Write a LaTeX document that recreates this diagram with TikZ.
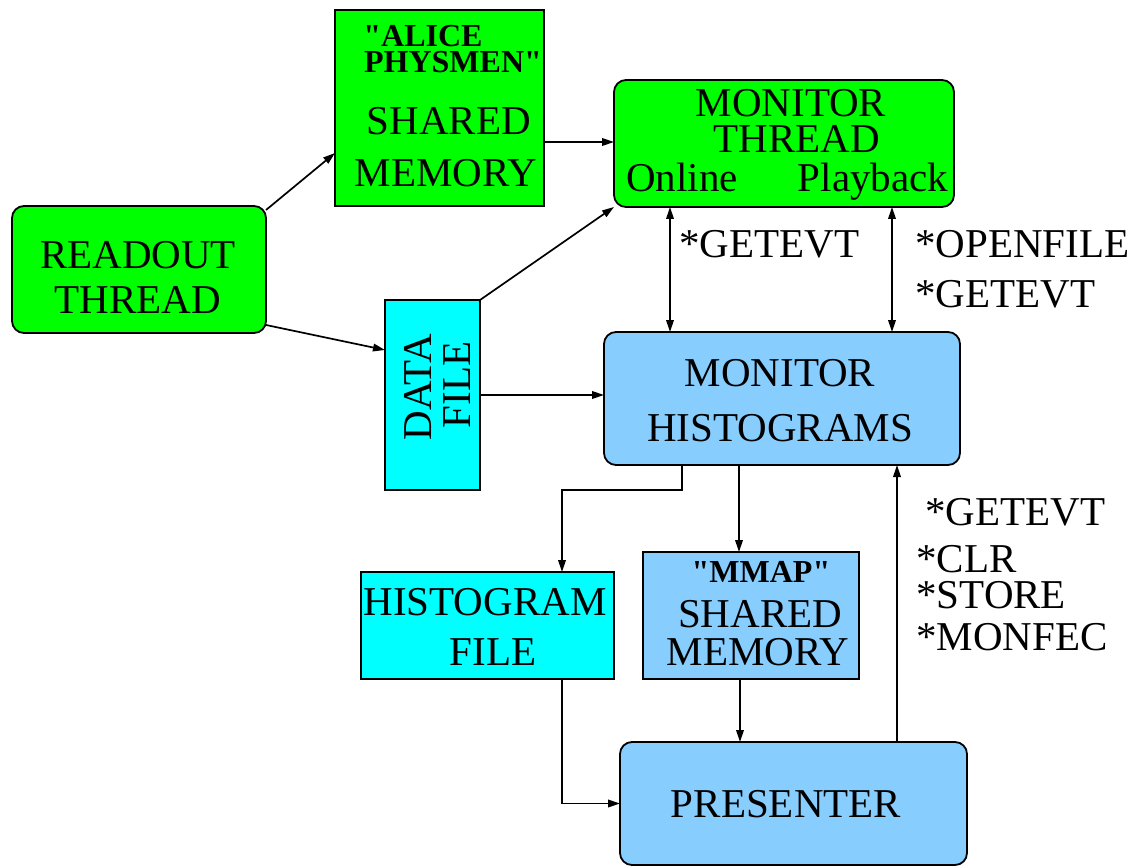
\documentclass[tikz,border=0pt]{standalone}
\usepackage{fontspec}
\newfontfamily\tms{Liberation Serif}
\usetikzlibrary{arrows.meta,fit}
\definecolor{fgreen}{RGB}{0,255,0}
\definecolor{lblue}{RGB}{135,206,255}
\definecolor{fcyan}{RGB}{0,255,255}
\begin{document}
\begin{tikzpicture}[x=0.5pt,y=-0.5pt,
  box/.style={draw, line width=0.9pt, inner sep=0pt, outer sep=0pt},
  gsq/.style={box, fill=fgreen},
  grnd/.style={box, fill=fgreen, rounded corners=6pt},
  bsq/.style={box, fill=lblue},
  brnd/.style={box, fill=lblue, rounded corners=6pt},
  csq/.style={box, fill=fcyan},
  txt/.style={inner sep=0pt, anchor=base, font=\tms\fontsize{20.5}{24}\selectfont, text height=0.68em, text depth=0pt},
  dtxt/.style={txt, text height=0.7em, text depth=0.2em},
  btxt/.style={inner sep=0pt, anchor=base, font=\tms\fontsize{16}{20}\selectfont\bfseries, text height=0.68em, text depth=0pt},
  lab/.style={txt, anchor=base west},
  conn/.style={line width=0.85pt, -{Triangle[length=6pt,width=3.8pt]}},
  dconn/.style={line width=0.85pt, {Triangle[length=6pt,width=3.8pt]}-{Triangle[length=6pt,width=3.8pt]}}]
\useasboundingbox (0,0) rectangle (1134,866);

% boxes
\node[gsq,  fit={(335,10) (544,206)}] (alice) {};
\node[grnd, fit={(614,80) (954,207)}] (monthr) {};
\node[grnd, fit={(12,206) (266,333)}] (readout) {};
\node[csq,  fit={(385,300) (480,490)}] (datafile) {};
\node[brnd, fit={(604,332) (960,465)}] (monhist) {};
\node[csq,  fit={(361,572) (614,679)}] (histfile) {};
\node[bsq,  fit={(643,552) (859,679)}] (mmap) {};
\node[brnd, fit={(620,742) (967,865)}] (presenter) {};

% box texts
\node[btxt] (aliceT1) at (423,47) {"ALICE};
\node[btxt] (aliceT2) at (453,73) {PHYSMEN"};
\node[txt]  (aliceT3) at (449,135) {SHARED};
\node[txt]  (aliceT4) at (446,187) {MEMORY};

\node[txt] (monthrT1) at (791,117) {MONITOR};
\node[txt] (monthrT2) at (797,153) {THREAD};
\node[dtxt] (monthrT3) at (682,192) {Online};
\node[dtxt] (monthrT4) at (873,192) {Playback};

\node[txt] (readoutT1) at (138,269) {READOUT};
\node[txt] (readoutT2) at (138,313) {THREAD};

\node[txt, rotate=90] (datafileT1) at (431,387) {DATA};
\node[txt, rotate=90] (datafileT2) at (470,385) {FILE};

\node[txt] (monhistT1) at (780,386) {MONITOR};
\node[txt] (monhistT2) at (780,441) {HISTOGRAMS};

\node[txt] (histfileT1) at (485,615) {HISTOGRAM};
\node[txt] (histfileT2) at (493,665) {FILE};

\node[btxt] (mmapT1) at (761,582) {"MMAP"};
\node[txt]  (mmapT2) at (760,627) {SHARED};
\node[txt]  (mmapT3) at (758,665) {MEMORY};

\node[txt] (presenterT) at (786,817) {PRESENTER};

% connector labels
\node[lab] (l1) at (679,257) {*GETEVT};
\node[lab] (l2) at (915,257) {*OPENFILE};
\node[lab] (l3) at (915,307) {*GETEVT};
\node[lab] (l4) at (925,525) {*GETEVT};
\node[lab] (l5) at (916,572) {*CLR};
\node[lab] (l6) at (916,608) {*STORE};
\node[lab] (l7) at (916,650) {*MONFEC};

% connectors
\draw[conn] (readout.east |- 0,210) -- (alice.west |- 0,153);
\draw[conn] (alice.east |- 0,142) -- (monthr.west |- 0,142);
\draw[conn] (readout.east |- 0,325) -- (datafile.west |- 0,350);
\draw[conn] (datafile.north east) -- (monthr.south west);
\draw[conn] (datafile.east |- 0,395) -- (monhist.west |- 0,395);
\draw[dconn] (monthr.south -| 670,0) -- (monhist.north -| 670,0);
\draw[dconn] (monthr.south -| 892,0) -- (monhist.north -| 892,0);
\draw[conn] (monhist.south -| 682,0) -- (682,490) -- (562,490) -- (histfile.north -| 562,0);
\draw[conn] (monhist.south -| 739,0) -- (mmap.north -| 739,0);
\draw[conn] (mmap.south -| 740,0) -- (presenter.north -| 740,0);
\draw[conn] (histfile.south -| 562,0) |- (presenter.west);
\draw[conn] (presenter.north -| 897,0) -- (monhist.south -| 897,0);
\end{tikzpicture}
\end{document}
